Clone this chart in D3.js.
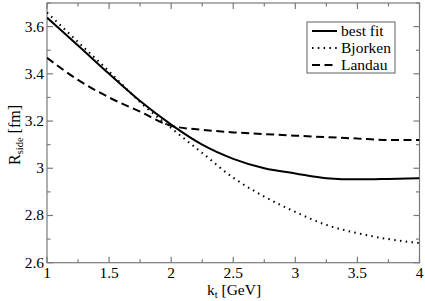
<!DOCTYPE html>
<html><head><meta charset="utf-8">
<script src="https://cdn.jsdelivr.net/npm/d3@7"></script>
<style>body{margin:0;background:#fff}svg{display:block}</style>
</head><body><svg id="c" width="425" height="301" font-family="Liberation Serif"></svg>
<script>
const kt = [1, 1.25, 1.5, 1.75, 2, 2.25, 2.5, 2.75, 3, 3.25, 3.5, 3.75, 4];
const bestFit = [3.638, 3.52, 3.40, 3.285, 3.185, 3.10, 3.04, 3.00, 2.978, 2.958, 2.953, 2.955, 2.958];
const bjorken = [3.66, 3.535, 3.41, 3.28, 3.17, 3.065, 2.96, 2.88, 2.815, 2.76, 2.725, 2.70, 2.683];
const landau = [3.468, 3.374, 3.30, 3.24, 3.18, 3.163, 3.152, 3.145, 3.138, 3.132, 3.126, 3.12, 3.12];
const xTicks = [1, 1.5, 2, 2.5, 3, 3.5, 4];
const xTickLabels = ["1", "1.5", "2", "2.5", "3", "3.5", "4"];
const yTicks = [2.6, 2.8, 3.0, 3.2, 3.4, 3.6];
const yTickLabels = ["2.6", "2.8", "3", "3.2", "3.4", "3.6"];
const seriesNames = ["best fit", "Bjorken", "Landau"];

const svg = d3.select("#c");
const FF = "Liberation Serif";
const L = 47, R = 419.5, T = 3, B = 262.7;
const x = d3.scaleLinear().domain([1, 4]).range([L, R]);
const y = d3.scaleLinear().domain([2.6, 3.7]).range([B, T]);
const axisCol = "#7a7a7a";

svg.append("rect").attr("x", L).attr("y", T).attr("width", R - L).attr("height", B - T)
  .attr("fill", "none").attr("stroke", axisCol).attr("stroke-width", 1.2);

const g = svg.append("g");
d3.range(1, 4.001, 0.25).forEach(v => {
  const major = Math.abs(v * 2 - Math.round(v * 2)) < 1e-6;
  const len = major ? 6 : 3.5;
  g.append("line").attr("x1", x(v)).attr("x2", x(v)).attr("y1", B).attr("y2", B - len).attr("stroke", axisCol).attr("stroke-width", 1.2);
  g.append("line").attr("x1", x(v)).attr("x2", x(v)).attr("y1", T).attr("y2", T + len).attr("stroke", axisCol).attr("stroke-width", 1.2);
});
d3.range(2.6, 3.7001, 0.1).forEach(v => {
  const major = Math.abs(v * 5 - Math.round(v * 5)) < 1e-6;
  const len = major ? 6 : 3.5;
  g.append("line").attr("y1", y(v)).attr("y2", y(v)).attr("x1", L).attr("x2", L + len).attr("stroke", axisCol).attr("stroke-width", 1.2);
  g.append("line").attr("y1", y(v)).attr("y2", y(v)).attr("x1", R).attr("x2", R - len).attr("stroke", axisCol).attr("stroke-width", 1.2);
});
xTicks.forEach((v, i) => {
  svg.append("text").attr("x", x(v)).attr("y", B + 15).attr("text-anchor", "middle")
    .attr("font-family", FF).attr("font-size", 15.5).text(xTickLabels[i]);
});
yTicks.forEach((v, i) => {
  svg.append("text").attr("x", L - 3).attr("y", y(v) + 5).attr("text-anchor", "end")
    .attr("font-family", FF).attr("font-size", 15.5).text(yTickLabels[i]);
});

const xt = svg.append("text").attr("x", 234).attr("y", 294.5).attr("text-anchor", "middle").attr("font-family", FF).attr("font-size", 15.5);
xt.append("tspan").text("k");
xt.append("tspan").attr("font-size", 10.5).attr("dy", 3).text("t");
xt.append("tspan").attr("dy", -3).text(" [GeV]");
const yt = svg.append("text").attr("transform", "translate(20,135) rotate(-90)").attr("text-anchor", "middle").attr("font-family", FF).attr("font-size", 16);
yt.append("tspan").text("R");
yt.append("tspan").attr("font-size", 10.5).attr("dy", 3).text("side");
yt.append("tspan").attr("dy", -3).text(" [fm]");

const styles = [
  {data: bestFit, dash: null, w: 2},
  {data: bjorken, dash: "1.5,4.3", w: 2},
  {data: landau, dash: "8,4.5", w: 2}
];
const line = d3.line().x((d, i) => x(kt[i])).y(d => y(d)).curve(d3.curveMonotoneX);
svg.append("clipPath").attr("id", "clp").append("rect").attr("x", L).attr("y", T).attr("width", R - L).attr("height", B - T);
styles.forEach(s => {
  svg.append("path").datum(s.data).attr("d", line).attr("fill", "none").attr("stroke", "#000")
    .attr("stroke-width", s.w).attr("stroke-dasharray", s.dash).attr("clip-path", "url(#clp)");
});

svg.append("rect").attr("x", 307).attr("y", 22).attr("width", 88).attr("height", 51)
  .attr("fill", "#fff").attr("stroke", axisCol).attr("stroke-width", 1.2);
seriesNames.forEach((n, i) => {
  const yy = 31 + i * 17;
  svg.append("line").attr("x1", 312).attr("x2", 337).attr("y1", yy).attr("y2", yy)
    .attr("stroke", "#000").attr("stroke-width", 2).attr("stroke-dasharray", styles[i].dash);
  svg.append("text").attr("x", 341).attr("y", yy + 5).attr("font-family", FF).attr("font-size", 15.5).text(n);
});
</script></body></html>
